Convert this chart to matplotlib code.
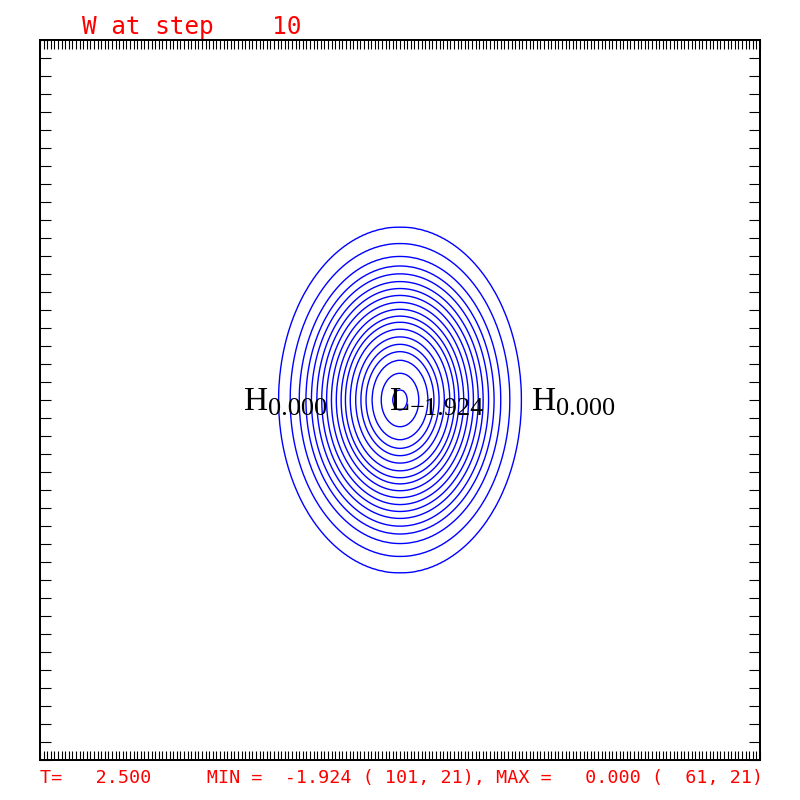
import numpy as np
import matplotlib
matplotlib.use('Agg')
import matplotlib.pyplot as plt
import matplotlib.transforms as mtransforms

# grid size of the model field
nx = 201
ny = 41

# centre of the low and its value
low_i = 101
low_j = 21
low_value = -1.924

# highs (value 0.000) found left and right of the low
high_i = [61, 141]
high_j = [21, 21]
high_value = 0.000

# half widths of the outermost contour (grid units)
half_x = 33.7
half_y = 9.6

# contour levels and where each one crosses (fraction of the outer contour radius)
levels = [-1.9, -1.8, -1.7, -1.6, -1.5, -1.4, -1.3, -1.2, -1.1, -1.0,
          -0.9, -0.8, -0.7, -0.6, -0.5, -0.4, -0.3, -0.2, -0.1]
radius = [0.06, 0.155, 0.23, 0.28, 0.322, 0.365, 0.41, 0.45, 0.485, 0.525,
          0.565, 0.605, 0.645, 0.685, 0.73, 0.775, 0.83, 0.905, 1.0]

title = 'W at step    10'
footer = 'T=   2.500     MIN =  -1.924 ( 101, 21), MAX =   0.000 (  61, 21)'


def draw():
    fig = plt.figure(figsize=(8, 8), dpi=100)
    ax = fig.add_axes([0.05, 0.05, 0.9, 0.9])

    # rebuild the field from the radial profile
    x = np.linspace(1, nx, 801)
    y = np.linspace(1, ny, 401)
    X, Y = np.meshgrid(x, y)
    rho = np.sqrt(((X - low_i) / half_x) ** 2 + ((Y - low_j) / half_y) ** 2)
    prof_r = [0.0] + radius + [1.15]
    prof_v = [low_value] + levels + [0.0]
    W = np.interp(rho, prof_r, prof_v)

    ax.contour(X, Y, W, levels=levels, colors='#0000ff', linewidths=1.0,
               linestyles='solid')

    ax.set_xlim(1, nx)
    ax.set_ylim(1, ny)
    ax.set_xticks(np.arange(1, nx + 1))
    ax.set_yticks(np.arange(1, ny + 1))
    ax.set_xticklabels([])
    ax.set_yticklabels([])
    ax.tick_params(axis='x', direction='in', length=6.8, width=0.8,
                   top=True, bottom=True)
    ax.tick_params(axis='y', direction='in', length=7.6, width=0.8,
                   left=True, right=True)
    for s in ax.spines.values():
        s.set_linewidth(1.44)

    # H / L labels with subscript values
    def mark(i, j, letter, value, half_w):
        t1 = mtransforms.offset_copy(ax.transData, fig=fig, x=0, y=-10, units='dots')
        ax.text(i, j, letter, transform=t1, ha='center', va='baseline',
                family='Liberation Serif', fontsize=24, color='black')
        t2 = mtransforms.offset_copy(ax.transData, fig=fig, x=half_w, y=-15, units='dots')
        ax.text(i, j, ('%.3f' % value).replace('-', '\u2212'), transform=t2,
                ha='left', va='baseline', family='Liberation Serif',
                fontsize=19, color='black')

    for i, j in zip(high_i, high_j):
        mark(i, j, 'H', high_value, 12)
    mark(low_i, low_j, 'L', low_value, 10)

    # red annotations
    fig.text(82 / 800, 1 - 34 / 800, title, family='DejaVu Sans Mono',
             fontsize=17.6, color='#ff0000', va='baseline', ha='left')
    fig.text(40 / 800, 1 - 783 / 800, footer, family='DejaVu Sans Mono',
             fontsize=13.2, color='#ff0000', va='baseline', ha='left')

    fig.savefig('out.png', dpi=100)


if __name__ == '__main__':
    draw()
